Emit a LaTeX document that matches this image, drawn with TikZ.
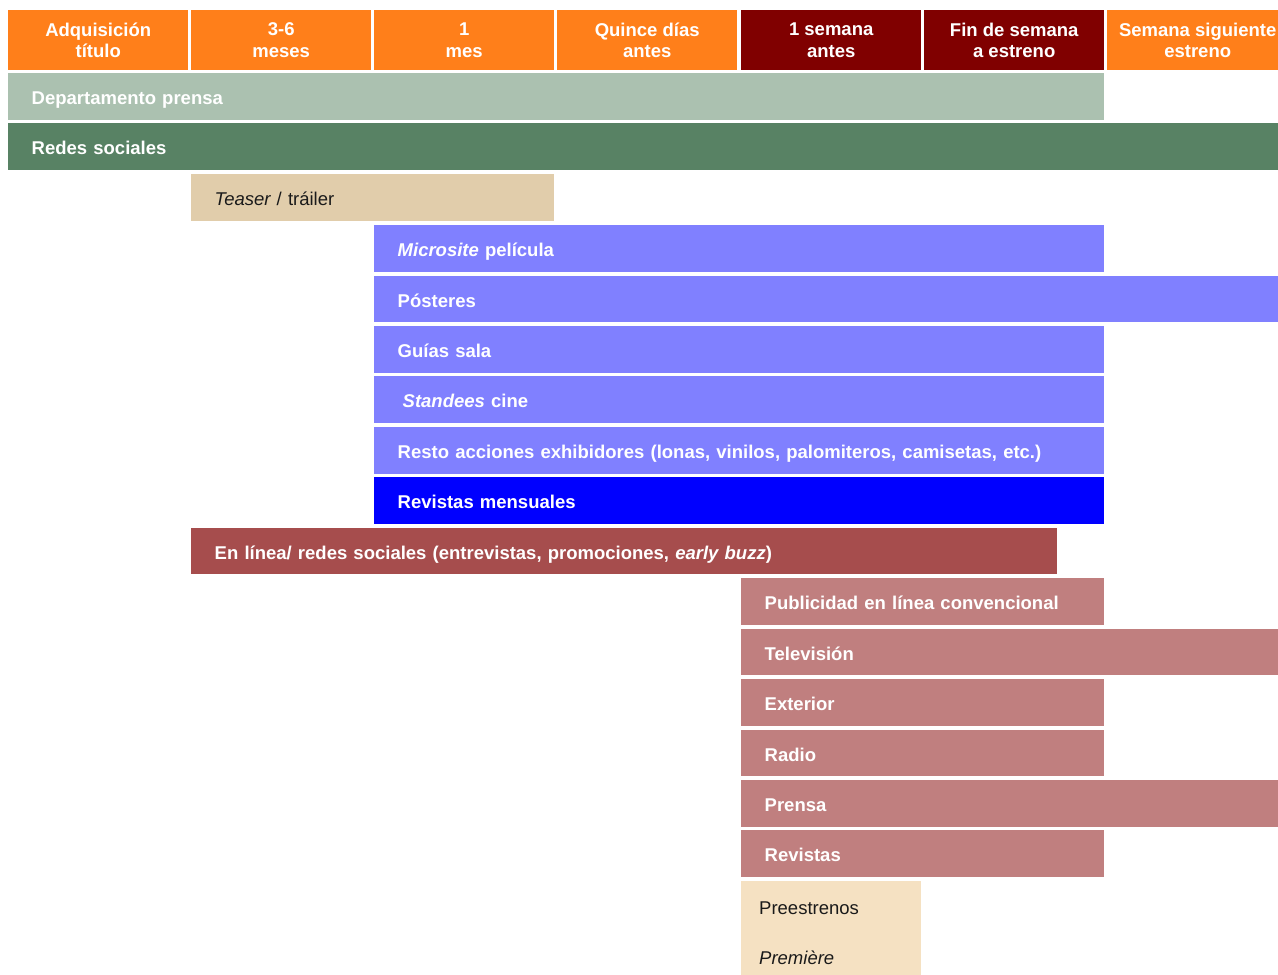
\documentclass[tikz,border=0pt]{standalone}
\usepackage{fontspec}
\setmainfont{Liberation Sans}
\definecolor{hdorange}{HTML}{FF7F1A}
\definecolor{hdred}{HTML}{800000}
\definecolor{prensa}{HTML}{ABC1B0}
\definecolor{redes}{HTML}{588264}
\definecolor{teaser}{HTML}{E1CDAB}
\definecolor{lilac}{HTML}{8080FF}
\definecolor{pureblue}{HTML}{0000FF}
\definecolor{linea}{HTML}{A64D4D}
\definecolor{rose}{HTML}{C07F7F}
\definecolor{cream}{HTML}{F5E1C2}
\definecolor{darktext}{HTML}{1A1A1A}
\newcommand\barfont{\fontsize{18.5}{21.5}\selectfont\bfseries}
\newcommand\plainfont{\fontsize{18.5}{21.5}\selectfont}
\newcommand\mkbar[7]{%
  \pgfmathsetmacro\bw{#4-#2}%
  \pgfmathsetmacro\bh{#5-#3}%
  \pgfmathsetmacro\tw{#4-#2-47}%
  \node[barbox, fill=#6, minimum width=\bw pt, minimum height=\bh pt, text width=\tw pt] (#1) at (#2,#3) {#7};}
\newcommand\mkhead[6]{%
  \pgfmathsetmacro\bw{#3-#2}%
  \node[headbox, fill=#4, minimum width=\bw pt] (#1) at (#2,10) {#5\\#6};}
\begin{document}
\begin{tikzpicture}[x=1pt,y=-1pt,
  barbox/.style={anchor=north west, draw=none, inner xsep=23pt, inner ysep=0pt, text height=16pt, text depth=0pt, align=left, text=white, font=\barfont},
  headbox/.style={anchor=north west, draw=none, inner sep=0pt, minimum height=60pt, align=center, text=white, font=\barfont},
  plaintext/.style={anchor=base west, inner sep=0pt, text=darktext, font=\plainfont}]
\useasboundingbox (0,0) rectangle (1278,975);
% header
\mkhead{h1}{8}{188}{hdorange}{Adquisición}{título}
\mkhead{h2}{191}{371}{hdorange}{3-6}{meses}
\mkhead{h3}{374}{554}{hdorange}{1}{mes}
\mkhead{h4}{557}{737}{hdorange}{Quince días}{antes}
\mkhead{h5}{741}{921}{hdred}{1 semana}{antes}
\mkhead{h6}{924}{1104}{hdred}{Fin de semana}{a estreno}
\mkhead{h7}{1107}{1288}{hdorange}{Semana siguiente}{estreno}
% bars
\mkbar{dep}{8}{73}{1104}{120}{prensa}{Departamento prensa}
\mkbar{red}{8}{123}{1278}{170}{redes}{Redes sociales}
\mkbar{tea}{191}{174}{554}{221}{teaser}{\color{darktext}\mdseries{\itshape Teaser} / tráiler}
\mkbar{mic}{374}{225}{1104}{272}{lilac}{{\itshape Microsite} película}
\mkbar{pos}{374}{276}{1278}{322}{lilac}{Pósteres}
\mkbar{gui}{374}{326}{1104}{373}{lilac}{Guías sala}
\mkbar{sta}{374}{376}{1104}{423}{lilac}{\hspace*{5pt}{\itshape Standees} cine}
\mkbar{res}{374}{427}{1104}{474}{lilac}{Resto acciones exhibidores (lonas, vinilos, palomiteros, camisetas, etc.)}
\mkbar{rvm}{374}{477}{1104}{524}{pureblue}{Revistas mensuales}
\mkbar{lin}{191}{528}{1057}{574}{linea}{En línea/ redes sociales (entrevistas, promociones, {\itshape early buzz})}
\mkbar{pub}{741}{578}{1104}{625}{rose}{Publicidad en línea convencional}
\mkbar{tel}{741}{629}{1278}{675}{rose}{Televisión}
\mkbar{ext}{741}{679}{1104}{726}{rose}{Exterior}
\mkbar{rad}{741}{730}{1104}{776}{rose}{Radio}
\mkbar{pre}{741}{780}{1278}{827}{rose}{Prensa}
\mkbar{rev}{741}{830}{1104}{877}{rose}{Revistas}
\mkbar{pst}{741}{881}{921}{975}{cream}{}
\node[plaintext] (pst1) at (759,914) {Preestrenos};
\node[plaintext] (pst2) at (759,964) {\itshape Première};
\end{tikzpicture}
\end{document}
